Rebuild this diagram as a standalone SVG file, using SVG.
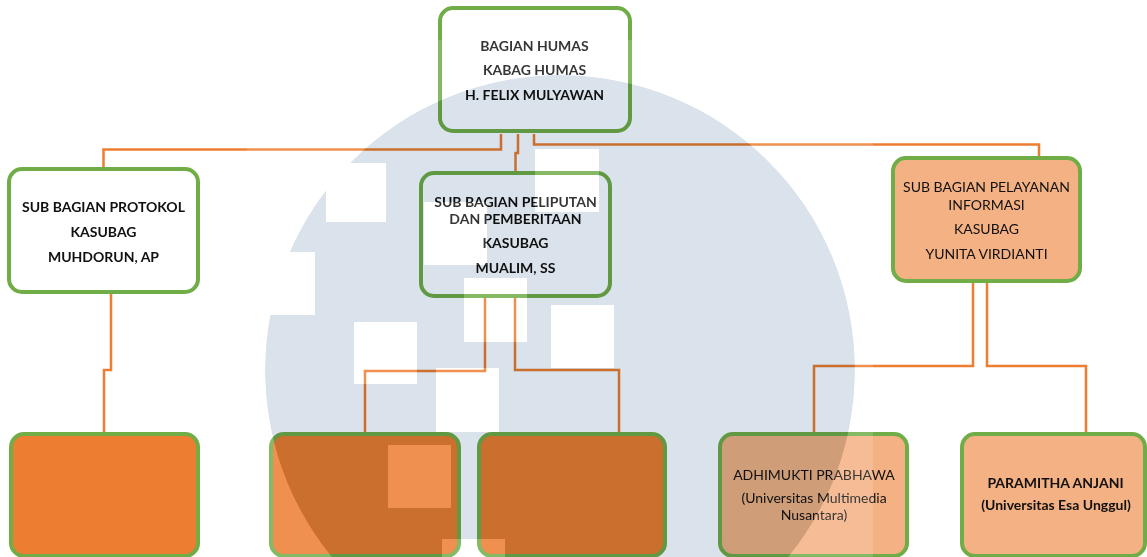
<svg xmlns="http://www.w3.org/2000/svg" width="1147" height="557" viewBox="0 0 1147 557">
<style>
.box{stroke:#70AD47;stroke-width:4}
.w{fill:#FFFFFF}
.o{fill:#ED7D31}
.p{fill:#F4B183}
.conn{fill:none;stroke:#ED7D31;stroke-width:2.5}
text{font-family:Lato,"Open Sans","Liberation Sans",sans-serif;font-size:14px;fill:#111;text-anchor:middle}
.b{font-weight:bold}
</style>
<defs>
<mask id="inC" maskUnits="userSpaceOnUse" x="0" y="0" width="1147" height="557">
<circle cx="560" cy="370" r="295" fill="#fff"/>
<g fill="#000">
<rect x="230" y="252" width="85" height="63"/>
<rect x="326" y="163" width="60" height="59"/>
<rect x="535" y="149" width="64" height="63"/>
<rect x="424" y="202" width="63" height="63"/>
<rect x="464" y="278" width="63" height="64"/>
<rect x="551" y="305" width="63" height="63"/>
<rect x="354" y="322" width="63" height="62"/>
<rect x="436" y="368" width="63" height="64"/>
<rect x="388" y="445" width="63" height="63"/>
<rect x="442" y="539" width="63" height="63"/>
</g>
</mask>
<mask id="outC" maskUnits="userSpaceOnUse" x="0" y="0" width="1147" height="557">
<rect x="0" y="0" width="1147" height="557" fill="#fff"/>
<circle cx="560" cy="370" r="295" fill="#000"/>
<g fill="#fff">
<rect x="230" y="252" width="85" height="63"/>
<rect x="326" y="163" width="60" height="59"/>
<rect x="535" y="149" width="64" height="63"/>
<rect x="424" y="202" width="63" height="63"/>
<rect x="464" y="278" width="63" height="64"/>
<rect x="551" y="305" width="63" height="63"/>
<rect x="354" y="322" width="63" height="62"/>
<rect x="436" y="368" width="63" height="64"/>
<rect x="388" y="445" width="63" height="63"/>
<rect x="442" y="539" width="63" height="63"/>
</g>
</mask>
</defs>
<rect x="0" y="0" width="1147" height="557" fill="#FFFFFF"/>
<g id="connectors">
<path class="conn" d="M501 134 V149.5 H103.5 V167"/>
<path class="conn" d="M518 134 V153 H515.5 V171"/>
<path class="conn" d="M534 134 V144.5 H1039 V156"/>
<path class="conn" d="M111 293 V370 H104 V432"/>
<path class="conn" d="M485 297 V371 H365 V432"/>
<path class="conn" d="M515 297 V370 H619 V432"/>
<path class="conn" d="M973 283 V366 H814 V432"/>
<path class="conn" d="M987 283 V366 H1086 V432"/>
</g>
<g id="kabag">
<rect class="box w" x="440" y="8" width="190" height="123" rx="13"/>
<text class="b" x="534.5" y="51">BAGIAN HUMAS</text>
<text class="b" x="534.5" y="75">KABAG HUMAS</text>
<text class="b" x="534.5" y="100">H. FELIX MULYAWAN</text>
</g>
<g id="protokol">
<rect class="box w" x="9" y="169" width="189" height="123" rx="13"/>
<text class="b" x="103.5" y="212">SUB BAGIAN PROTOKOL</text>
<text class="b" x="103.5" y="237">KASUBAG</text>
<text class="b" x="103.5" y="262">MUHDORUN, AP</text>
</g>
<g id="peliputan">
<rect class="box w" x="421" y="173" width="189" height="123" rx="13"/>
<text class="b" x="515.5" y="206.5">SUB BAGIAN PELIPUTAN</text>
<text class="b" x="515.5" y="224">DAN PEMBERITAAN</text>
<text class="b" x="515.5" y="248">KASUBAG</text>
<text class="b" x="515.5" y="273">MUALIM, SS</text>
</g>
<g id="pelayanan">
<rect class="box p" x="893" y="158" width="187" height="123" rx="13"/>
<text x="986.5" y="192">SUB BAGIAN PELAYANAN</text>
<text x="986.5" y="210">INFORMASI</text>
<text x="986.5" y="234">KASUBAG</text>
<text x="986.5" y="259">YUNITA VIRDIANTI</text>
</g>
<g id="staff1">
<rect class="box o" x="11" y="434" width="187" height="122" rx="13"/>
</g>
<g id="staff2">
<rect class="box o" x="271" y="434" width="188" height="122" rx="13"/>
</g>
<g id="staff3">
<rect class="box o" x="479" y="434" width="186" height="122" rx="13"/>
</g>
<g id="staff4">
<rect class="box p" x="720" y="434" width="187" height="122" rx="13"/>
<text x="814" y="480">ADHIMUKTI PRABHAWA</text>
<text x="814" y="503">(Universitas Multimedia</text>
<text x="814" y="520">Nusantara)</text>
</g>
<g id="staff5">
<rect class="box p" x="962" y="434" width="183" height="122" rx="13"/>
<text class="b" x="1055.5" y="488">PARAMITHA ANJANI</text>
<text class="b" x="1056" y="510">(Universitas Esa Unggul)</text>
</g>
<g id="watermark">
<rect x="247" y="40" width="626" height="530" fill="#FFFFFF" opacity="0.15" mask="url(#outC)"/>
<circle cx="560" cy="370" r="295" fill="#DAE2EC" style="mix-blend-mode:multiply" mask="url(#inC)"/>
</g>
</svg>
